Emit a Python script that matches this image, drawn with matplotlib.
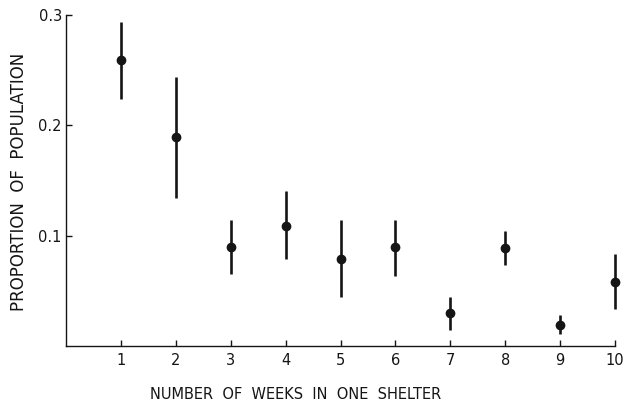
import numpy as np
import matplotlib.pyplot as plt

weeks = np.array([1, 2, 3, 4, 5, 6, 7, 8, 9, 10])
prop = np.array([0.259, 0.189, 0.090, 0.109, 0.079, 0.090, 0.030, 0.089, 0.019, 0.058])
err_hi = np.array([0.294, 0.244, 0.114, 0.140, 0.114, 0.114, 0.044, 0.104, 0.028, 0.083])
err_lo = np.array([0.224, 0.134, 0.065, 0.079, 0.044, 0.063, 0.014, 0.073, 0.011, 0.033])

plt.rcParams['font.family'] = ['DejaVu Sans']
ink = '#151515'

fig = plt.figure(figsize=(6.37, 4.01), dpi=100)
ax = fig.add_axes([0.1036, 0.138, 0.862, 0.824])

yerr = np.vstack([prop - err_lo, err_hi - prop])
eb = ax.errorbar(weeks, prop, yerr=yerr, fmt='o', color=ink, ms=6,
                 elinewidth=1.9, capsize=0)
for art in eb.get_children():
    art.set_clip_on(False)

ax.set_xlim(0, 10)
ax.set_ylim(0, 0.3)
ax.set_xticks(weeks)
ax.set_xticklabels([str(w) for w in weeks])
ax.set_yticks([0.1, 0.2, 0.3])
ax.set_yticklabels(['0.1', '0.2', '0.3'])

for s in ['top', 'right']:
    ax.spines[s].set_visible(False)
for s in ['left', 'bottom']:
    ax.spines[s].set_linewidth(1.0)
    ax.spines[s].set_color(ink)

ax.tick_params(direction='in', length=4, width=1.0, color=ink,
               labelsize=10.5, labelcolor=ink)
ax.tick_params(axis='x', pad=5)
ax.tick_params(axis='y', pad=3)

ax.set_xlabel('NUMBER  OF  WEEKS  IN  ONE  SHELTER', fontsize=10.5, color=ink)
ax.xaxis.set_label_coords(0.419, -0.125)
ax.set_ylabel('PROPORTION  OF  POPULATION', fontsize=12, color=ink)
ax.yaxis.set_label_coords(-0.069, 0.495)

fig.savefig('out.png', dpi=100)
